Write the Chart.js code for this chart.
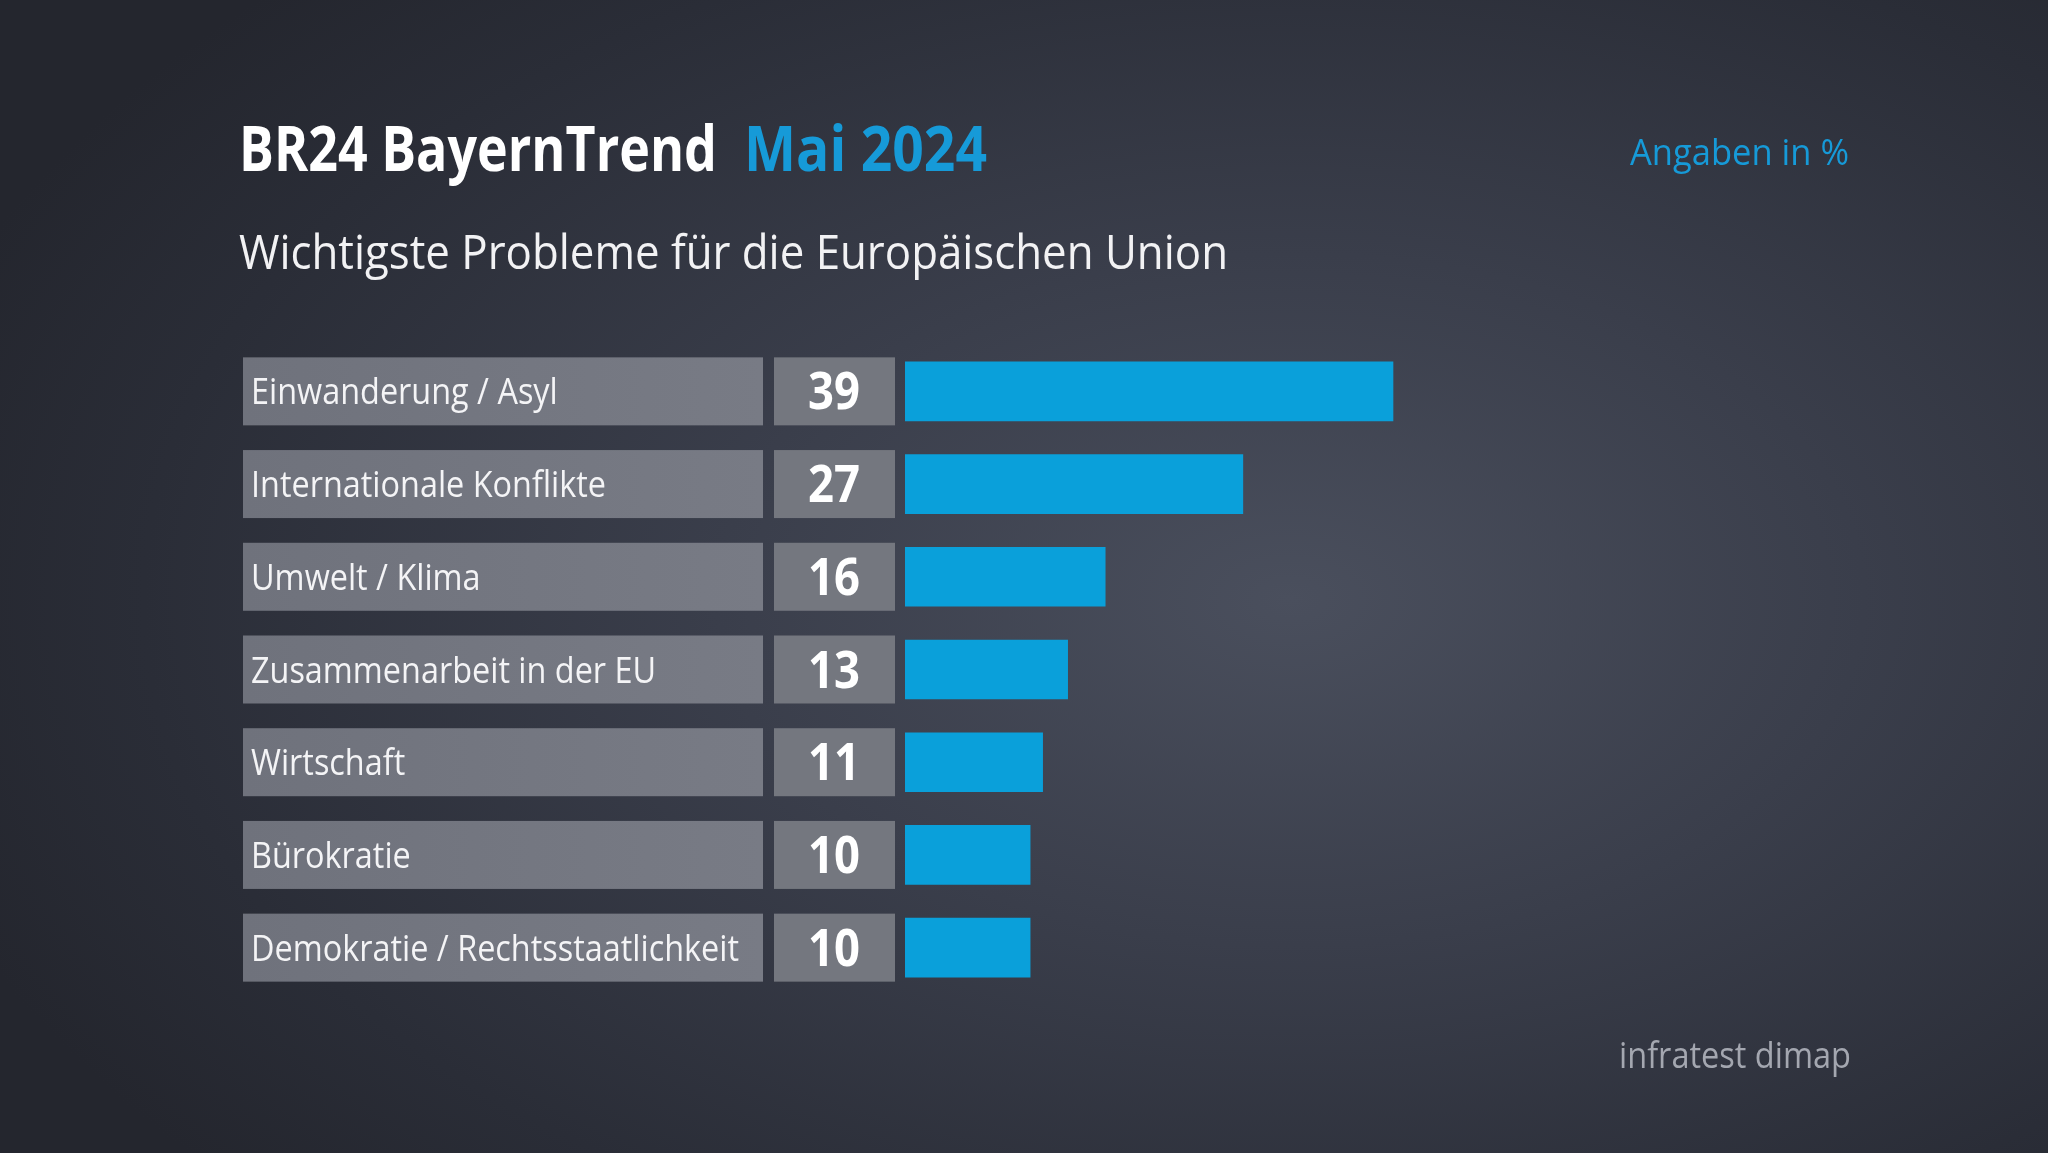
<!DOCTYPE html>
<html>
<head>
<meta charset="utf-8">
<script src="https://cdn.jsdelivr.net/npm/chart.js@4"></script>
<style>
  html, body { margin: 0; padding: 0; }
  body {
    width: 2048px; height: 1153px; overflow: hidden;
    background: radial-gradient(ellipse 70% 75% at 63% 52%, #4a4f5d 0%, #3a3e4b 40%, #2a2d37 80%, #24262e 100%);
  }
  canvas { display: block; }
</style>
</head>
<body>
<canvas id="chart" width="2048" height="1153"></canvas>
<script>
// data
var categories = [
  'Einwanderung / Asyl',
  'Internationale Konflikte',
  'Umwelt / Klima',
  'Zusammenarbeit in der EU',
  'Wirtschaft',
  'Bürokratie',
  'Demokratie / Rechtsstaatlichkeit'
];
var values = [39, 27, 16, 13, 11, 10, 10];

var titleMain = 'BR24 BayernTrend';
var titleDate = 'Mai 2024';
var subtitle = 'Wichtigste Probleme für die Europäischen Union';
var unitNote = 'Angaben in %';
var source = 'infratest dimap';

var BLUE = '#0aa0da';
var FONT = '"Open Sans", "Noto Sans", sans-serif';

// draw text, squeezed horizontally by sx
function drawText(ctx, text, x, y, font, color, sx, align) {
  ctx.save();
  ctx.font = font;
  ctx.fillStyle = color;
  ctx.textBaseline = 'alphabetic';
  var w = ctx.measureText(text).width * sx;
  var left = x;
  if (align === 'center') left = x - w / 2;
  if (align === 'right') left = x - w;
  ctx.translate(left, y);
  ctx.scale(sx, 1);
  ctx.fillText(text, 0, 0);
  ctx.restore();
}

function fitScale(ctx, text, font, width) {
  ctx.save();
  ctx.font = font;
  var s = width / ctx.measureText(text).width;
  ctx.restore();
  return s;
}

var boxesPlugin = {
  id: 'boxes',
  beforeDatasetsDraw: function(chart) {
    var ctx = chart.ctx;
    var y = chart.scales.y;
    categories.forEach(function(c, i) {
      var cy = y.getPixelForValue(i);
      var g = ctx.createLinearGradient(243, 0, 763, 0);
      g.addColorStop(0, '#6f727c');
      g.addColorStop(1, '#787b85');
      ctx.fillStyle = g;
      ctx.fillRect(243, cy - 34, 520, 68);
      ctx.fillStyle = '#74777f';
      ctx.fillRect(774, cy - 34, 121, 68);
    });
  },
  afterDatasetsDraw: function(chart) {
    var ctx = chart.ctx;
    var y = chart.scales.y;
    var labelFont = '36px ' + FONT;
    var valueFont = 'bold 52px ' + FONT;
    var ls = fitScale(ctx, categories[6], labelFont, 488);
    var vs = fitScale(ctx, '39', valueFont, 52);
    categories.forEach(function(c, i) {
      var cy = y.getPixelForValue(i);
      drawText(ctx, c, 251, cy + 13, labelFont, '#f4f4f6', ls, 'left');
      drawText(ctx, String(values[i]), 834, cy + 18, valueFont, '#ffffff', vs, 'center');
    });

    // titles
    var tFont = 'bold 62px ' + FONT;
    drawText(ctx, titleMain, 239, 171, tFont, '#ffffff', fitScale(ctx, titleMain, tFont, 478), 'left');
    drawText(ctx, titleDate, 744, 171, tFont, '#169ad8', fitScale(ctx, titleDate, tFont, 243), 'left');
    var sFont = '48px ' + FONT;
    drawText(ctx, subtitle, 239, 269, sFont, '#f2f2f4', fitScale(ctx, subtitle, sFont, 989), 'left');
    var uFont = '37px ' + FONT;
    drawText(ctx, unitNote, 1849, 165, uFont, '#169ad8', fitScale(ctx, unitNote, uFont, 219), 'right');
    drawText(ctx, source, 1851, 1068, uFont, '#a4a7b0', fitScale(ctx, source, uFont, 232), 'right');
  }
};

var chart = new Chart(document.getElementById('chart'), {
  type: 'bar',
  data: {
    labels: categories,
    datasets: [{
      data: values,
      backgroundColor: BLUE,
      borderWidth: 0,
      barThickness: 59
    }]
  },
  options: {
    indexAxis: 'y',
    responsive: false,
    animation: false,
    layout: { padding: { left: 905, right: 142, top: 345, bottom: 159 } },
    scales: {
      x: { display: false, min: 0, max: 80 },
      y: { display: false }
    },
    plugins: {
      legend: { display: false },
      tooltip: { enabled: false }
    }
  },
  plugins: [boxesPlugin]
});
</script>
</body>
</html>
